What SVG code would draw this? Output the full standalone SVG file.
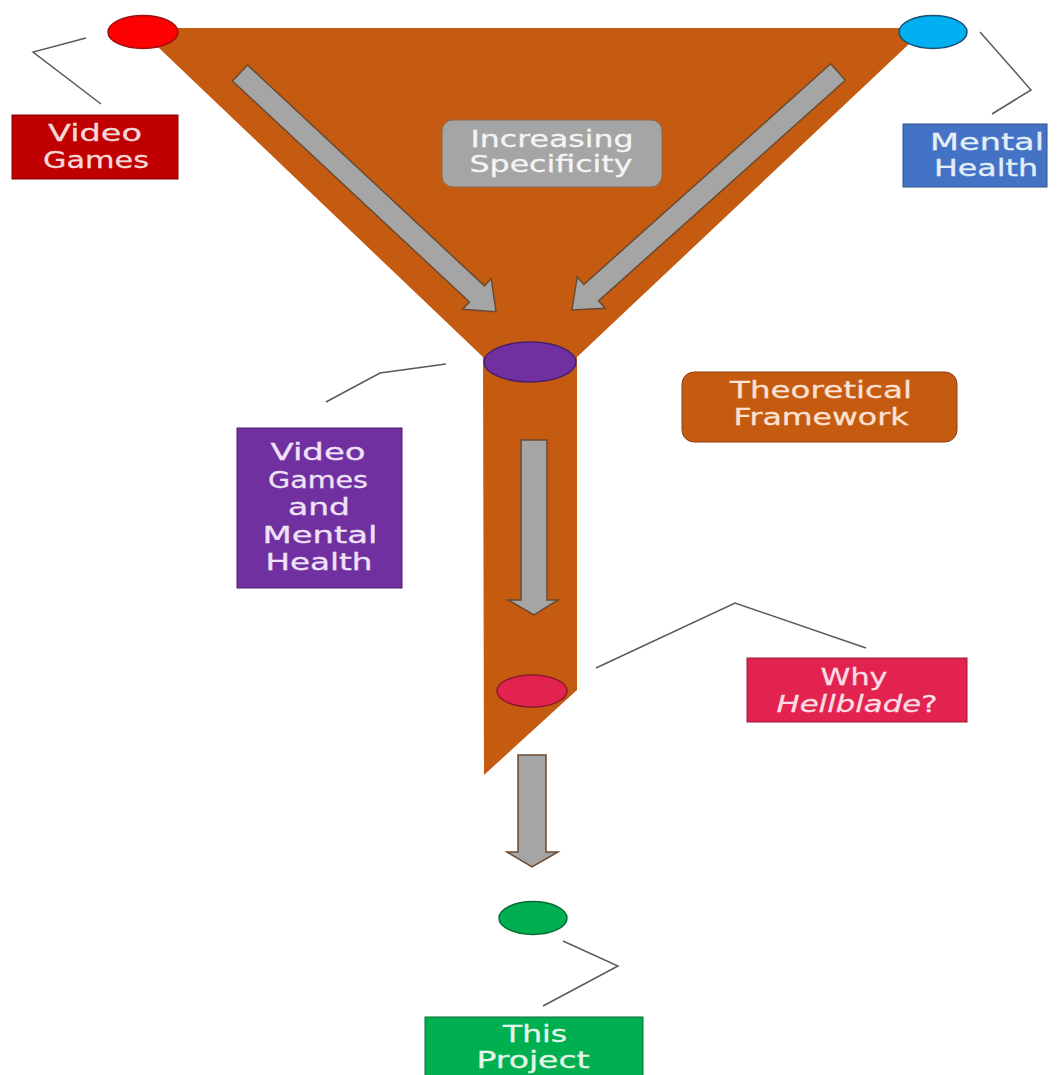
<svg xmlns="http://www.w3.org/2000/svg" width="1058" height="1075" viewBox="0 0 1058 1075">
<style>
.t{font-family:"DejaVu Sans","Verdana",sans-serif;font-size:22.5px;text-anchor:middle;stroke-width:0.3px}
.lead{fill:none;stroke:#5a5a5a;stroke-width:1.5}
.arr{fill:#A5A5A5;stroke:#6b4a30;stroke-width:1.5}
</style>
<rect width="1058" height="1075" fill="#ffffff"/>
<g id="funnel">
<polygon points="138,28 926,28 577,357 577,690 484,775 483,357" fill="#C55A11"/>
</g>
<g id="flow-arrows">
<polygon class="arr" transform="translate(240,73) rotate(43)" points="0,-11 324,-11 324,-21 350,0 324,21 324,11 0,11"/>
<polygon class="arr" transform="translate(838,72) rotate(138.2)" points="0,-11 331,-11 331,-21 357,0 331,21 331,11 0,11"/>
<polygon class="arr" points="521,440 547,440 547,600 558,600 534,615 508,600 521,600"/>
<polygon class="arr" points="518,755 546,755 546,852 558,852 532,867 507,852 518,852"/>
</g>
<g id="connectors">
<polyline class="lead" points="86,38 33,52 101,104"/>
<polyline class="lead" points="980,32 1031,90 992,114"/>
<polyline class="lead" points="446,364 380,373 326,402"/>
<polyline class="lead" points="596,668 735,603 866,648"/>
<polyline class="lead" points="563,941 618,966 543,1006"/>
</g>
<g id="dot-video-games"><ellipse cx="143" cy="32" rx="35" ry="16.5" fill="#FF0000" stroke="#9b1010" stroke-width="1.5"/></g>
<g id="dot-mental-health"><ellipse cx="933" cy="32" rx="34" ry="16.5" fill="#00B0F0" stroke="#1b4f72" stroke-width="1.5"/></g>
<g id="dot-vg-mh"><ellipse cx="530" cy="362" rx="46" ry="20" fill="#7030A0" stroke="#4a1f6e" stroke-width="1.5"/></g>
<g id="dot-hellblade"><ellipse cx="532" cy="691" rx="35" ry="16" fill="#E3234F" stroke="#8b1a2f" stroke-width="1.5"/></g>
<g id="dot-project"><ellipse cx="533" cy="918" rx="34" ry="16.5" fill="#00B050" stroke="#0b6b34" stroke-width="1.5"/></g>
<g id="label-video-games">
<rect x="12" y="115" width="166" height="64" fill="#C00000" stroke="#8a0000" stroke-width="1"/>
<text class="t" x="95" y="141" fill="#F6D8D8" stroke="#F6D8D8" textLength="94" lengthAdjust="spacingAndGlyphs">Video</text>
<text class="t" x="96" y="168" fill="#F6D8D8" stroke="#F6D8D8" textLength="106" lengthAdjust="spacingAndGlyphs">Games</text>
</g>
<g id="label-mental-health">
<rect x="903" y="124" width="144" height="63" fill="#4472C4" stroke="#2f528f" stroke-width="1"/>
<text class="t" x="987" y="150" fill="#E2EEF9" stroke="#E2EEF9" textLength="114" lengthAdjust="spacingAndGlyphs">Mental</text>
<text class="t" x="986" y="176" fill="#E2EEF9" stroke="#E2EEF9" textLength="104" lengthAdjust="spacingAndGlyphs">Health</text>
</g>
<g id="label-increasing">
<rect x="442" y="120" width="220" height="67" rx="11" fill="#A5A5A5" stroke="#8a6a50" stroke-width="1"/>
<text class="t" x="552" y="147" fill="#F4F4F4" stroke="#F4F4F4" textLength="163" lengthAdjust="spacingAndGlyphs">Increasing</text>
<text class="t" x="551" y="172" fill="#F4F4F4" stroke="#F4F4F4" textLength="163" lengthAdjust="spacingAndGlyphs">Specificity</text>
</g>
<g id="label-theoretical">
<rect x="682" y="372" width="275" height="70" rx="12" fill="#C55A11" stroke="#8f4110" stroke-width="1"/>
<text class="t" x="821" y="398" fill="#FBE2D2" stroke="#FBE2D2" textLength="182" lengthAdjust="spacingAndGlyphs">Theoretical</text>
<text class="t" x="821" y="425" fill="#FBE2D2" stroke="#FBE2D2" textLength="175" lengthAdjust="spacingAndGlyphs">Framework</text>
</g>
<g id="label-vg-mh">
<rect x="237" y="428" width="165" height="160" fill="#7030A0" stroke="#4a1f6e" stroke-width="1"/>
<text class="t" x="318" y="460" fill="#F0E2F8" stroke="#F0E2F8" textLength="95" lengthAdjust="spacingAndGlyphs">Video</text>
<text class="t" x="318" y="488" fill="#F0E2F8" stroke="#F0E2F8" textLength="100" lengthAdjust="spacingAndGlyphs">Games</text>
<text class="t" x="319" y="515" fill="#F0E2F8" stroke="#F0E2F8" textLength="62" lengthAdjust="spacingAndGlyphs">and</text>
<text class="t" x="320" y="543" fill="#F0E2F8" stroke="#F0E2F8" textLength="115" lengthAdjust="spacingAndGlyphs">Mental</text>
<text class="t" x="319" y="570" fill="#F0E2F8" stroke="#F0E2F8" textLength="107" lengthAdjust="spacingAndGlyphs">Health</text>
</g>
<g id="label-hellblade">
<rect x="747" y="658" width="220" height="64" fill="#E3234F" stroke="#9b1a35" stroke-width="1"/>
<text class="t" x="854" y="685" fill="#FBDDE3" stroke="#FBDDE3" textLength="67" lengthAdjust="spacingAndGlyphs">Why</text>
<text class="t" x="857" y="712" fill="#FBDDE3" stroke="#FBDDE3" textLength="161" lengthAdjust="spacingAndGlyphs"><tspan font-style="italic">Hellblade</tspan>?</text>
</g>
<g id="label-project">
<rect x="425" y="1017" width="218" height="70" fill="#00B050" stroke="#0b6b34" stroke-width="1"/>
<text class="t" x="535" y="1042" fill="#E4F6EA" stroke="#E4F6EA" textLength="64" lengthAdjust="spacingAndGlyphs">This</text>
<text class="t" x="533" y="1068" fill="#E4F6EA" stroke="#E4F6EA" textLength="113" lengthAdjust="spacingAndGlyphs">Project</text>
</g>
</svg>
